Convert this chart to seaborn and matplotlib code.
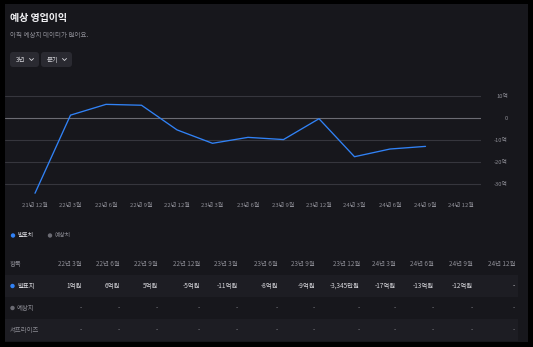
import matplotlib
matplotlib.use("Agg")
import matplotlib.pyplot as plt
from matplotlib.patches import Rectangle, FancyBboxPatch, Circle
import seaborn as sns
import pandas as pd

# ---------------- data ----------------
periods = ["21년 12월", "22년 3월", "22년 6월", "22년 9월", "22년 12월", "23년 3월",
           "23년 6월", "23년 9월", "23년 12월", "24년 3월", "24년 6월", "24년 9월", "24년 12월"]
actual = [-34.2, 1.3, 6.2, 5.8, -5.4, -11.5, -8.8, -9.8, -0.33, -17.6, -14.1, -12.9]  # 억원
y_ticks = [10, 0, -10, -20, -30]
y_tick_labels = ["10억", "0", "-10억", "-20억", "-30억"]

table_cols = ["22년 3월", "22년 6월", "22년 9월", "22년 12월", "23년 3월", "23년 6월",
              "23년 9월", "23년 12월", "24년 3월", "24년 6월", "24년 9월", "24년 12월"]
table_actual = ["1억원", "6억원", "5억원", "-5억원", "-11억원", "-8억원", "-9억원",
                "-3,345만원", "-17억원", "-13억원", "-12억원", "-"]
table_estimate = ["-"] * 12
table_surprise = ["-"] * 12
row_labels = ["항목", "발표치", "예상치", "서프라이즈"]
legend_labels = ["발표치", "예상치"]

# ---------------- style ----------------
sns.set_theme(style="dark")
plt.rcParams["font.family"] = ["Noto Sans CJK KR", "DejaVu Sans"]

W, H = 533, 347
BLUE = "#3182f6"
GRAYDOT = "#6b6b73"
CARD = "#17171c"
ROW = "#1d1d23"
TXT = "#d8d8dd"
SUB = "#8c8c94"
TFS = 4.6

fig = plt.figure(figsize=(W / 100, H / 100), dpi=100, facecolor="#000000")

# background / decoration axes in pixel coordinates
bg = fig.add_axes([0, 0, 1, 1], zorder=0)
bg.set_xlim(0, W)
bg.set_ylim(H, 0)
bg.axis("off")
bg.add_patch(Rectangle((5, 4), 523, 338, color=CARD, lw=0))

# title & subtitle
bg.text(10, 18, "예상 영업이익", color="#f2f2f5", fontsize=7.2, fontweight="bold", va="center", ha="left")
bg.text(10, 34.5, "아직 예상치 데이터가 없어요.", color=SUB, fontsize=4.7, va="center", ha="left")

# buttons
for (x0, w, label) in [(10, 29, "3년"), (41, 31, "분기")]:
    bg.add_patch(FancyBboxPatch((x0, 52), w, 15, boxstyle="round,pad=0,rounding_size=3",
                                color="#2a2a31", lw=0))
    bg.text(x0 + 6, 59.5, label, color=TXT, fontsize=4.6, va="center", ha="left")
    cx = x0 + w - 7.5
    bg.plot([cx - 2, cx, cx + 2], [58.5, 60.5, 58.5], color=TXT, lw=0.6)

# legend
bg.add_patch(Circle((13, 235.5), 2.2, color=BLUE, lw=0))
bg.text(17.5, 235.5, legend_labels[0], color=TXT, fontsize=4.2, va="center", ha="left")
bg.add_patch(Circle((50, 235.5), 2.2, color=GRAYDOT, lw=0))
bg.text(54.5, 235.5, legend_labels[1], color=SUB, fontsize=4.2, va="center", ha="left")

# table
row_y = [264, 286, 308, 330]
bg.add_patch(Rectangle((5, 275), 513, 22, color=ROW, lw=0))
bg.add_patch(Rectangle((5, 319), 513, 22, color=ROW, lw=0))
col_right = [82, 120, 158, 200, 238, 278, 315, 360, 396, 434, 473, 515]
bg.text(10, row_y[0], row_labels[0], color=SUB, fontsize=TFS, va="center", ha="left")
bg.add_patch(Circle((12.5, row_y[1]), 2.2, color=BLUE, lw=0))
bg.text(17, row_y[1], row_labels[1], color=TXT, fontsize=TFS, va="center", ha="left")
bg.add_patch(Circle((12.5, row_y[2]), 2.2, color=GRAYDOT, lw=0))
bg.text(17, row_y[2], row_labels[2], color=SUB, fontsize=TFS, va="center", ha="left")
bg.text(10, row_y[3], row_labels[3], color=SUB, fontsize=TFS, va="center", ha="left")
for xr, c, a, e, s in zip(col_right, table_cols, table_actual, table_estimate, table_surprise):
    bg.text(xr, row_y[0], c, color=SUB, fontsize=TFS, va="center", ha="right")
    bg.text(xr, row_y[1], a, color=TXT, fontsize=TFS, va="center", ha="right")
    bg.text(xr, row_y[2], e, color=SUB, fontsize=TFS, va="center", ha="right")
    bg.text(xr, row_y[3], s, color=SUB, fontsize=TFS, va="center", ha="right")

# ---------------- chart ----------------
left, right, top, bottom = 5, 481, 85, 200
ax = fig.add_axes([left / W, 1 - bottom / H, (right - left) / W, (bottom - top) / H], zorder=1)
ax.set_facecolor("none")

df = pd.DataFrame({"idx": list(range(len(actual))), "value": actual})
sns.lineplot(data=df, x="idx", y="value", ax=ax, color=BLUE, linewidth=0.95)

# scales: 35.5 px per quarter, 22 px per 10억
x0px, step = 35, 35.5
ax.set_xlim((left - x0px) / step, (right - x0px) / step)
ax.set_ylim(-(bottom - 118) / 22 * 10, (118 - top) / 22 * 10)

for yt in y_ticks:
    ax.axhline(yt, color="#6c6c73" if yt == 0 else "#36363d", lw=0.8, zorder=0)

ax.set_xticks(range(len(periods)))
ax.set_xticklabels(periods, color=SUB, fontsize=4.3)
ax.set_yticks(y_ticks)
ax.set_yticklabels(y_tick_labels, color=SUB, fontsize=4.2, ha="right")
ax.yaxis.tick_right()
ax.tick_params(axis="x", length=0, pad=2.0)
ax.tick_params(axis="y", length=0, pad=19.4)
ax.grid(False)
ax.set_xlabel("")
ax.set_ylabel("")
for sp in ax.spines.values():
    sp.set_visible(False)

fig.savefig("out.png", dpi=100, facecolor=fig.get_facecolor())
